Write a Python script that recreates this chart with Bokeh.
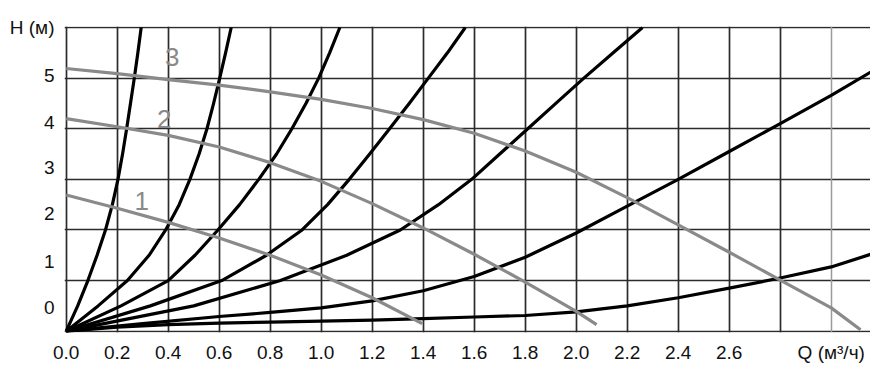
from bokeh.plotting import figure
from bokeh.models import Range1d, FixedTicker, Grid
from bokeh.core.properties import value
from bokeh.embed import file_html
from bokeh.resources import INLINE

# ---- data (Q in m3/h, H in grid units) ----
x_tick_values = [0.0, 0.2, 0.4, 0.6, 0.8, 1.0, 1.2, 1.4, 1.6, 1.8, 2.0, 2.2, 2.4, 2.6, 3.0]
x_tick_labels = ["0.0", "0.2", "0.4", "0.6", "0.8", "1.0", "1.2", "1.4", "1.6", "1.8",
                 "2.0", "2.2", "2.4", "2.6", "Q (м³/ч)"]
y_tick_values = [0.47, 1.37, 2.33, 3.24, 4.13, 5.05, 6.01]
y_tick_labels = ["0", "1", "2", "3", "4", "5", "H (м)"]
x_grid = [0.0, 0.2, 0.4, 0.6, 0.8, 1.0, 1.2, 1.4, 1.6, 1.8, 2.0, 2.2, 2.4, 2.6, 2.8]
x_grid_light = [3.0]
y_grid = [0, 1, 2, 3, 4, 5, 6]

# system (black) curves
sys_a_q = [0, 0.045, 0.085, 0.121, 0.154, 0.181, 0.203, 0.221, 0.237, 0.252, 0.267, 0.281, 0.294]
sys_a_h = [0, 0.5, 1, 1.5, 2, 2.5, 3, 3.5, 4, 4.5, 5, 5.5, 6]
sys_b_q = [0, 0.125, 0.24, 0.325, 0.39, 0.443, 0.485, 0.521, 0.552, 0.578, 0.602, 0.625, 0.647]
sys_b_h = [0, 0.5, 1, 1.5, 2, 2.5, 3, 3.5, 4, 4.5, 5, 5.5, 6]
sys_c_q = [0, 0.215, 0.4, 0.505, 0.595, 0.68, 0.755, 0.825, 0.885, 0.94, 0.99, 1.033, 1.073]
sys_c_h = [0, 0.5, 1, 1.5, 2, 2.5, 3, 3.5, 4, 4.5, 5, 5.5, 6]
sys_d_q = [0, 0.33, 0.61, 0.785, 0.925, 1.025, 1.11, 1.19, 1.268, 1.345, 1.42, 1.495, 1.565]
sys_d_h = [0, 0.5, 1, 1.5, 2, 2.5, 3, 3.5, 4, 4.5, 5, 5.5, 6]
sys_e_q = [0, 0.5, 0.84, 1.1, 1.31, 1.46, 1.59, 1.70, 1.81, 1.92, 2.03, 2.145, 2.26]
sys_e_h = [0, 0.5, 1, 1.5, 2, 2.5, 3, 3.5, 4, 4.5, 5, 5.5, 6]
sys_f_q = [0, 0.3, 0.6, 0.8, 1.0, 1.2, 1.4, 1.6, 1.8, 2.0, 2.2, 2.4, 2.6, 2.8, 3.0, 3.155]
sys_f_h = [0, 0.15, 0.29, 0.37, 0.46, 0.6, 0.8, 1.08, 1.46, 1.94, 2.47, 3.0, 3.55, 4.1, 4.66, 5.12]
sys_g_q = [0, 0.2, 0.4, 0.6, 0.8, 1.0, 1.2, 1.4, 1.6, 1.8, 2.0, 2.2, 2.4, 2.6, 2.8, 3.0, 3.155]
sys_g_h = [0, 0.08, 0.13, 0.16, 0.18, 0.2, 0.22, 0.25, 0.28, 0.31, 0.38, 0.5, 0.66, 0.85, 1.05, 1.27, 1.52]

# pump (grey) curves, speeds 1..3
pump1_q = [0, 0.2, 0.4, 0.6, 0.8, 1.0, 1.2, 1.396]
pump1_h = [2.69, 2.43, 2.15, 1.84, 1.5, 1.11, 0.66, 0.15]
pump2_q = [0, 0.2, 0.4, 0.6, 0.8, 1.0, 1.2, 1.4, 1.6, 1.8, 2.0, 2.08]
pump2_h = [4.2, 4.04, 3.87, 3.64, 3.33, 2.96, 2.52, 2.04, 1.52, 0.97, 0.39, 0.13]
pump3_q = [0, 0.2, 0.4, 0.6, 0.8, 1.0, 1.2, 1.4, 1.6, 1.8, 2.0, 2.2, 2.4, 2.6, 2.8, 3.0, 3.115]
pump3_h = [5.19, 5.09, 4.97, 4.86, 4.73, 4.58, 4.4, 4.18, 3.91, 3.56, 3.14, 2.64, 2.1, 1.56, 1.01, 0.46, 0.03]

speed_labels = ["1", "2", "3"]
speed_label_q = [0.296, 0.384, 0.416]
speed_label_h = [2.58, 4.2, 5.41]

FONT = "Liberation Sans"

p = figure(width=870, height=365,
           x_range=Range1d(-0.0067, 3.154), y_range=Range1d(-0.026, 6.02),
           output_backend="svg", toolbar_location=None,
           min_border_left=64, min_border_right=0,
           min_border_top=26, min_border_bottom=32)
p.outline_line_color = None
p.background_fill_color = "white"
p.border_fill_color = "white"

# grids
p.xgrid.ticker = FixedTicker(ticks=x_grid)
p.ygrid.ticker = FixedTicker(ticks=y_grid)
for g in (p.xgrid[0], p.ygrid[0]):
    g.grid_line_color = "#2b2b2b"
    g.grid_line_width = 1.7
light = Grid(dimension=0, ticker=FixedTicker(ticks=x_grid_light),
             grid_line_color="#9a9a9a", grid_line_width=1.5)
p.add_layout(light)

# axes
p.xaxis.ticker = FixedTicker(ticks=x_tick_values)
p.xaxis.major_label_overrides = {v: s for v, s in zip(x_tick_values, x_tick_labels)}
p.yaxis.ticker = FixedTicker(ticks=y_tick_values)
p.yaxis.major_label_overrides = {v: s for v, s in zip(y_tick_values, y_tick_labels)}
for ax in (p.xaxis[0], p.yaxis[0]):
    ax.axis_line_color = None
    ax.major_tick_line_color = None
    ax.minor_tick_line_color = None
    ax.major_tick_out = 0
    ax.major_tick_in = 0
    ax.major_label_text_font = FONT
    ax.major_label_text_font_size = "19px"
    ax.major_label_text_color = "#111111"
p.xaxis.major_label_standoff = 9
p.yaxis.major_label_standoff = 10

# system curves
for q, h in [(sys_a_q, sys_a_h), (sys_b_q, sys_b_h), (sys_c_q, sys_c_h),
             (sys_d_q, sys_d_h), (sys_e_q, sys_e_h), (sys_f_q, sys_f_h),
             (sys_g_q, sys_g_h)]:
    p.line(q, h, line_color="black", line_width=3.2, line_join="round")

# pump curves
for q, h in [(pump1_q, pump1_h), (pump2_q, pump2_h), (pump3_q, pump3_h)]:
    p.line(q, h, line_color="#8a8a8a", line_width=3.2, line_join="round")

p.text(x=speed_label_q, y=speed_label_h, text=speed_labels,
       text_font=value(FONT), text_font_size="26px", text_color="#8a8a8a",
       text_align="center", text_baseline="middle")

open("out.html", "w").write(file_html(p, INLINE))
